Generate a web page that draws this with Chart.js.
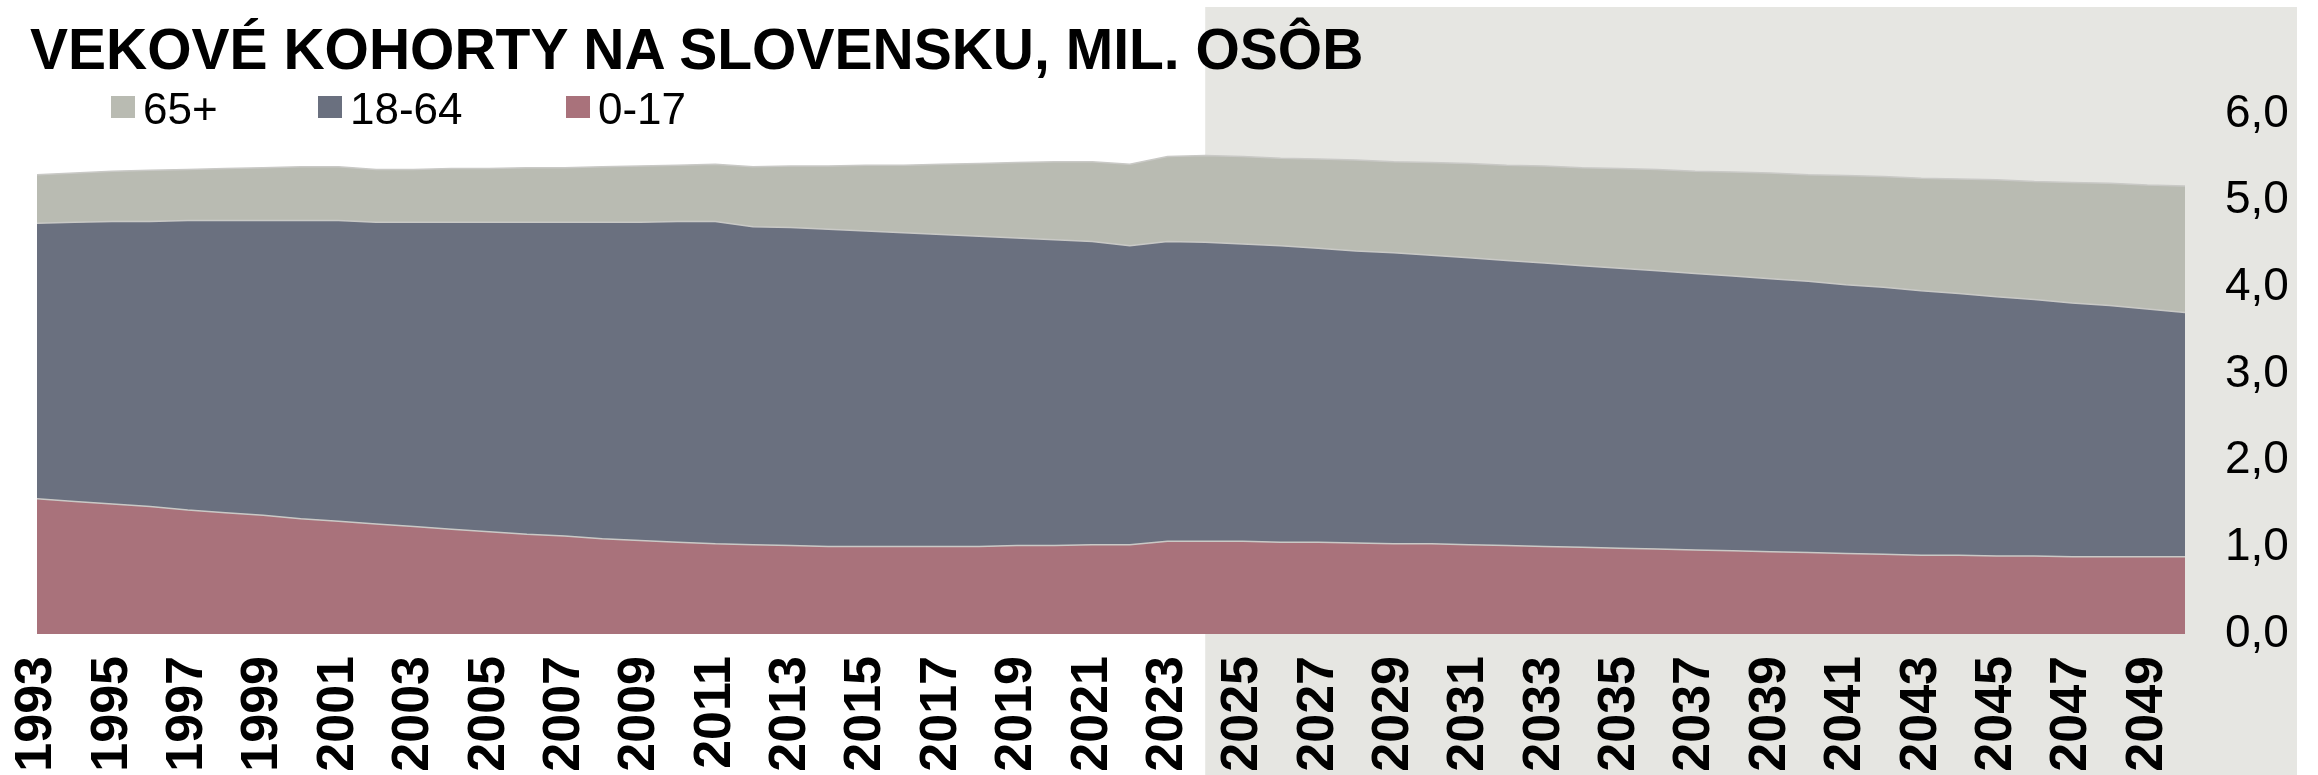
<!DOCTYPE html>
<html>
<head>
<meta charset="utf-8">
<script src="https://cdn.jsdelivr.net/npm/chart.js@4.4.1/dist/chart.umd.min.js"></script>
<style>
  html, body { margin: 0; padding: 0; background: #fff; }
  #wrap { position: relative; width: 2318px; height: 775px; overflow: hidden; }
  #myChart { position: absolute; left: 0; top: 0; }
  .title {
    position: absolute; left: 30px; top: 21px;
    font: bold 57px "Liberation Sans", Arial, sans-serif; line-height: 57px;
    color: #000; white-space: nowrap;
  }
  .legend-item {
    position: absolute; top: 87px;
    font: 44px "Liberation Sans", Arial, sans-serif; line-height: 43px;
    color: #000; white-space: nowrap;
  }
  .legend-box { position: absolute; top: 96px; width: 24px; height: 22px; }
</style>
</head>
<body>
<div id="wrap">
  <canvas id="myChart" width="2318" height="775"></canvas>
  <div class="title">VEKOVÉ KOHORTY NA SLOVENSKU, MIL. OSÔB</div>
  <div id="legend"></div>
</div>
<script>
const years = ['1993','1994','1995','1996','1997','1998','1999','2000','2001','2002',
  '2003','2004','2005','2006','2007','2008','2009','2010','2011','2012',
  '2013','2014','2015','2016','2017','2018','2019','2020','2021','2022',
  '2023','2024','2025','2026','2027','2028','2029','2030','2031','2032',
  '2033','2034','2035','2036','2037','2038','2039','2040','2041','2042',
  '2043','2044','2045','2046','2047','2048','2049','2050'];

// mil. osob
const age0to17 = [1.56,1.53,1.50,1.47,1.43,1.40,1.37,1.33,1.30,1.27,
  1.24,1.21,1.18,1.15,1.13,1.10,1.08,1.06,1.04,1.03,
  1.02,1.01,1.01,1.01,1.01,1.01,1.02,1.02,1.03,1.03,
  1.07,1.07,1.07,1.06,1.06,1.05,1.04,1.04,1.03,1.02,
  1.01,1.00,0.99,0.98,0.97,0.96,0.95,0.94,0.93,0.92,
  0.91,0.91,0.90,0.90,0.89,0.89,0.89,0.89];

const age18to64 = [3.18,3.22,3.26,3.29,3.34,3.37,3.40,3.44,3.47,3.48,
  3.51,3.54,3.57,3.60,3.62,3.65,3.67,3.70,3.72,3.67,
  3.67,3.66,3.64,3.62,3.60,3.58,3.55,3.53,3.50,3.45,
  3.46,3.45,3.43,3.42,3.39,3.37,3.36,3.33,3.31,3.29,
  3.27,3.25,3.23,3.21,3.19,3.17,3.15,3.13,3.10,3.08,
  3.05,3.02,2.99,2.96,2.93,2.90,2.86,2.82];

const age65plus = [0.56,0.57,0.58,0.59,0.59,0.60,0.61,0.62,0.62,0.61,
  0.61,0.62,0.62,0.63,0.63,0.64,0.65,0.65,0.66,0.69,
  0.71,0.73,0.76,0.78,0.81,0.84,0.87,0.90,0.92,0.94,
  0.98,1.00,1.01,1.01,1.03,1.05,1.05,1.07,1.09,1.10,
  1.12,1.13,1.15,1.17,1.18,1.20,1.22,1.23,1.26,1.28,
  1.30,1.32,1.35,1.36,1.39,1.41,1.43,1.46];

const yTicks = [0, 1, 2, 3, 4, 5, 6];
const projectionStart = '2024';

const series = [
  { label: '0-17', data: age0to17, color: '#A9727B', legendX: 566 },
  { label: '18-64', data: age18to64, color: '#6A707F', legendX: 318 },
  { label: '65+', data: age65plus, color: '#B9BBB2', legendX: 111 }
];

// legend (html)
const legend = document.getElementById('legend');
series.forEach(s => {
  const box = document.createElement('div');
  box.className = 'legend-box';
  box.style.left = s.legendX + 'px';
  box.style.background = s.color;
  legend.appendChild(box);
  const txt = document.createElement('div');
  txt.className = 'legend-item';
  txt.style.left = (s.legendX + 32) + 'px';
  txt.textContent = s.label;
  legend.appendChild(txt);
});

// gray shading for the projection period
const projectionShade = {
  id: 'projectionShade',
  beforeDraw(chart) {
    const ctx = chart.ctx;
    const x0 = chart.scales.x.getPixelForValue(years.indexOf(projectionStart));
    ctx.save();
    ctx.fillStyle = '#E6E6E2';
    ctx.fillRect(x0, 7, 2297 - x0, chart.height - 7);
    ctx.restore();
  }
};

const chartLayout = document.getElementById('myChart');

const myChart = new Chart(chartLayout, {
  type: 'line',
  data: {
    labels: years,
    datasets: series.map((s, i) => ({
      label: s.label,
      data: s.data,
      backgroundColor: s.color,
      borderColor: '#C9C9C6',
      borderWidth: 1.5,
      pointRadius: 0,
      tension: 0,
      fill: i === 0 ? 'origin' : '-1'
    }))
  },
  options: {
    responsive: false,
    animation: false,
    devicePixelRatio: 1,
    layout: {
      padding: { left: 37, top: 114, right: 0, bottom: 0 }
    },
    plugins: {
      legend: { display: false },
      title: { display: false },
      tooltip: { enabled: false }
    },
    scales: {
      x: {
        grid: { display: false },
        border: { display: false },
        ticks: {
          autoSkip: false,
          minRotation: 90,
          maxRotation: 90,
          padding: 14,
          color: '#000',
          font: { family: '"Liberation Sans", Arial, sans-serif', size: 52, weight: 'bold' },
          callback: (value, index) => index % 2 === 0 ? years[index] : ''
        },
        afterFit: scale => { scale.height = 141; }
      },
      y: {
        position: 'right',
        stacked: true,
        min: 0,
        max: 6,
        grid: { display: false },
        border: { display: false },
        afterBuildTicks: scale => { scale.ticks = yTicks.map(v => ({ value: v })); },
        ticks: {
          padding: 32,
          color: '#000',
          font: { family: '"Liberation Sans", Arial, sans-serif', size: 46 },
          callback: v => v.toFixed(1).replace('.', ',')
        },
        afterFit: scale => { scale.width = 133; }
      }
    }
  },
  plugins: [projectionShade]
});
</script>
</body>
</html>
